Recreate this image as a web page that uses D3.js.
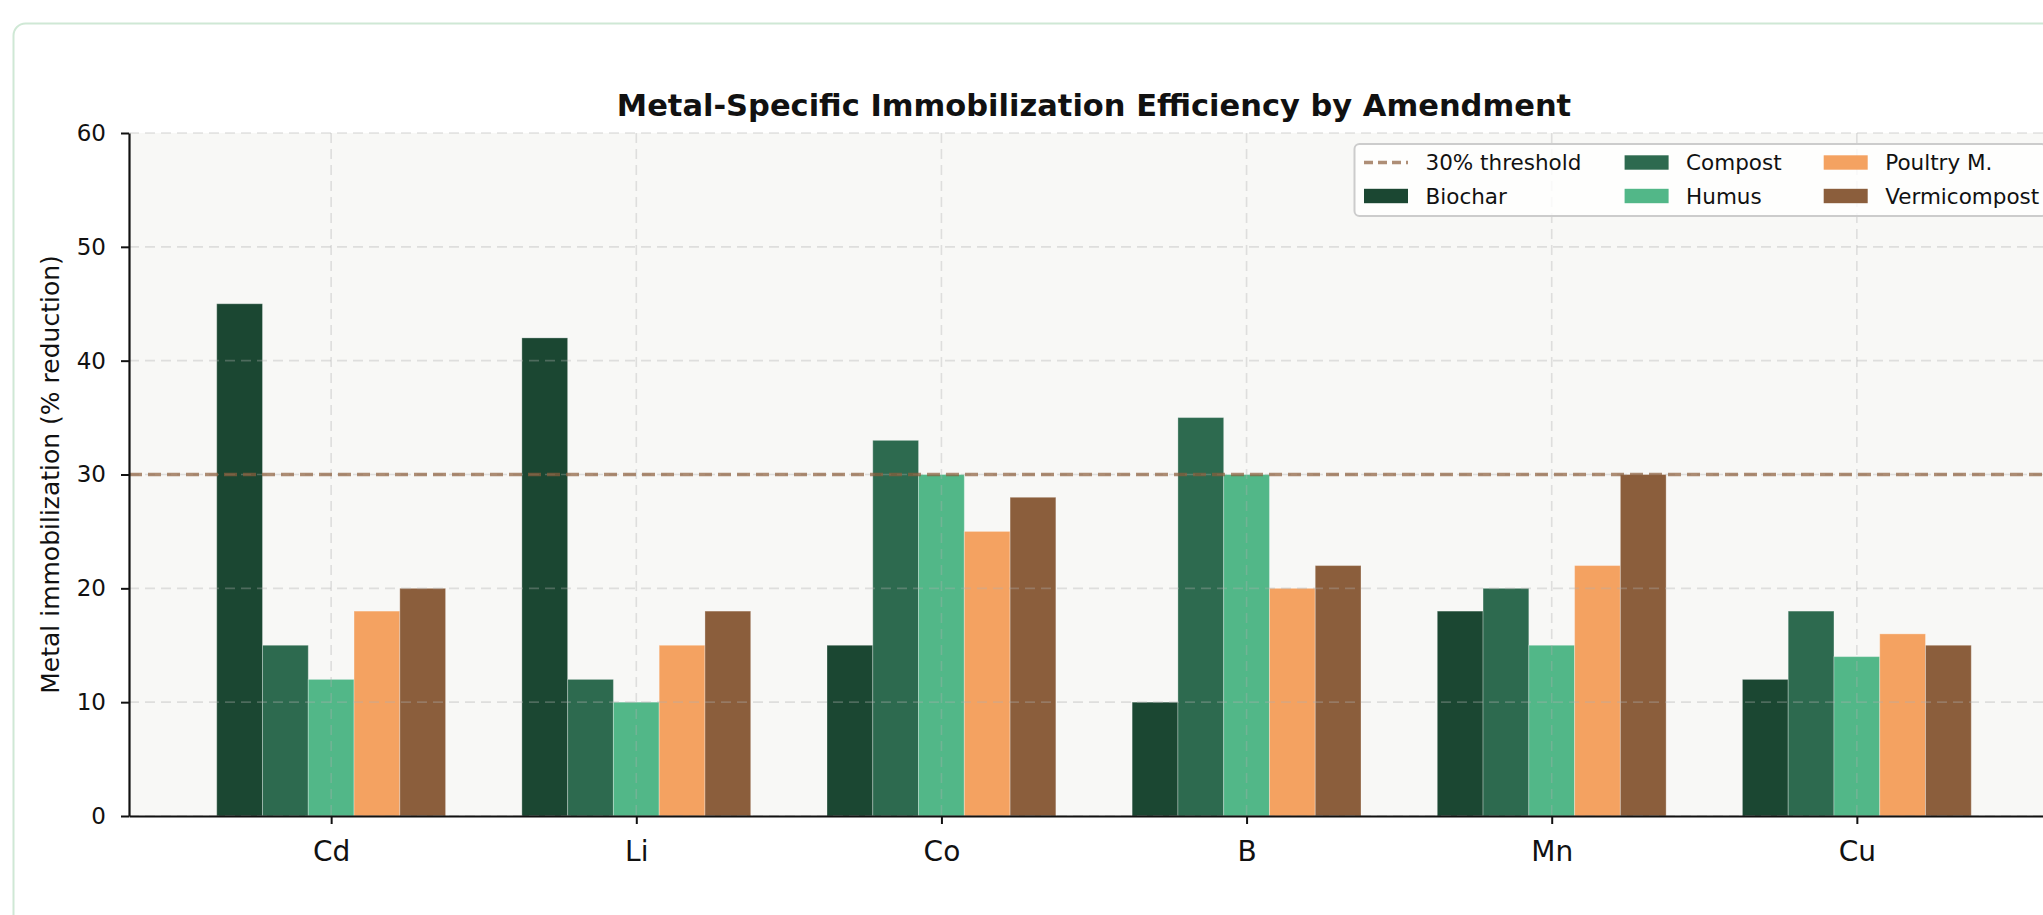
<!DOCTYPE html>
<html>
<head>
<meta charset="utf-8">
<script src="https://cdn.jsdelivr.net/npm/d3@7"></script>
<style>
  html, body { margin: 0; padding: 0; background: #ffffff; overflow: hidden; }
  svg { display: block; }
  text { font-family: "DejaVu Sans", sans-serif; fill: #111; }
</style>
</head>
<body>
<svg id="chart" width="2120" height="960"></svg>
<script>
// ---- data ----
const metals = ["Cd", "Li", "Co", "B", "Mn", "Cu"];
const amendments = ["Biochar", "Compost", "Humus", "Poultry M.", "Vermicompost"];
const biochar      = [45, 42, 15, 10, 18, 12];
const compost      = [15, 12, 33, 35, 20, 18];
const humus        = [12, 10, 30, 30, 15, 14];
const poultry      = [18, 15, 25, 20, 22, 16];
const vermicompost = [20, 18, 28, 22, 30, 15];
const seriesValues = [biochar, compost, humus, poultry, vermicompost];
const seriesColors = ["#1b4732", "#2d6a4f", "#52b788", "#f4a261", "#8b5e3c"];
const yTicks = [0, 10, 20, 30, 40, 50, 60];
const threshold = 30;
const thresholdLabel = "30% threshold";
const titleText = "Metal-Specific Immobilization Efficiency by Amendment";
const yLabelText = "Metal immobilization (% reduction)";

// ---- layout ----
const svg = d3.select("#chart");
const plot = { left: 129, right: 2059, top: 133, bottom: 816 };
const barW = 0.15;
const nS = amendments.length;
const pad = (metals.length - 1 + nS * barW) * 0.05;
const xMin = -nS * barW / 2 - pad, xMax = metals.length - 1 + nS * barW / 2 + pad;

const x = d3.scaleLinear().domain([xMin, xMax]).range([plot.left, plot.right]);
const y = d3.scaleLinear().domain([0, 60]).range([plot.bottom, plot.top]);

// card
svg.append("rect")
  .attr("x", 13.5).attr("y", 23.5).attr("width", 2150).attr("height", 1000)
  .attr("rx", 12).attr("fill", "#ffffff")
  .attr("stroke", "#cfe8d5").attr("stroke-width", 2);

// axes background
svg.append("rect")
  .attr("x", plot.left).attr("y", plot.top)
  .attr("width", plot.right - plot.left).attr("height", plot.bottom - plot.top)
  .attr("fill", "#f8f8f6");

// bars
const groups = svg.append("g");
seriesValues.forEach((vals, si) => {
  groups.append("g").selectAll("rect").data(vals).join("rect")
    .attr("x", (d, i) => x(i + (si - (nS - 1) / 2) * barW - barW / 2))
    .attr("width", (d, i) => x(barW) - x(0))
    .attr("y", d => y(d))
    .attr("height", d => y(0) - y(d))
    .attr("fill", seriesColors[si])
    .attr("stroke", "#ffffff").attr("stroke-opacity", 0.3).attr("stroke-width", 1);
});

// grid (drawn above bars, like matplotlib default)
const grid = svg.append("g").attr("stroke", "#b0b0b0").attr("stroke-opacity", 0.35)
  .attr("stroke-width", 1.6).attr("stroke-dasharray", "10,6");
grid.selectAll("line.h").data(yTicks).join("line").attr("class", "h")
  .attr("x1", plot.left).attr("x2", plot.right)
  .attr("y1", d => y(d)).attr("y2", d => y(d));
grid.selectAll("line.v").data(metals).join("line").attr("class", "v")
  .attr("x1", (d, i) => x(i)).attr("x2", (d, i) => x(i))
  .attr("y1", plot.top).attr("y2", plot.bottom);

// threshold line
svg.append("line")
  .attr("x1", plot.left).attr("x2", plot.right)
  .attr("y1", y(threshold)).attr("y2", y(threshold))
  .attr("stroke", "#8b5e3c").attr("stroke-opacity", 0.7)
  .attr("stroke-width", 3.5).attr("stroke-dasharray", "13,6");

// y axis
const yAxis = svg.append("g").attr("transform", `translate(${plot.left},0)`)
  .call(d3.axisLeft(y).tickValues(yTicks).tickSize(8).tickSizeOuter(0).tickPadding(15));
yAxis.select(".domain").attr("stroke", "#111").attr("stroke-width", 2.2);
yAxis.selectAll(".tick line").attr("stroke", "#111").attr("stroke-width", 2);
yAxis.selectAll(".tick text").style("font-size", "23px").attr("fill", "#111");

// x axis
const xAxis = svg.append("g").attr("transform", `translate(0,${plot.bottom})`)
  .call(d3.axisBottom(x).tickValues(d3.range(metals.length)).tickFormat(i => metals[i])
        .tickSize(8).tickSizeOuter(0));
xAxis.select(".domain").attr("stroke", "#111").attr("stroke-width", 2.2);
xAxis.selectAll(".tick line").attr("stroke", "#111").attr("stroke-width", 2);
xAxis.selectAll(".tick text").style("font-size", "28px").attr("fill", "#111")
  .attr("y", 45).attr("dy", 0);

// title
svg.append("text")
  .attr("x", (plot.left + plot.right) / 2).attr("y", 116)
  .attr("text-anchor", "middle")
  .style("font-size", "30.5px").style("font-weight", "bold")
  .text(titleText);

// y label
svg.append("text")
  .attr("transform", `translate(58.5,${(plot.top + plot.bottom) / 2}) rotate(-90)`)
  .attr("text-anchor", "middle")
  .style("font-size", "25px")
  .text(yLabelText);

// legend
const lg = svg.append("g");
lg.append("rect")
  .attr("x", 1354.5).attr("y", 144).attr("width", 692).attr("height", 72)
  .attr("rx", 5).attr("fill", "#ffffff").attr("fill-opacity", 0.8)
  .attr("stroke", "#cccccc").attr("stroke-width", 2);
const legendItems = [{ type: "line", label: thresholdLabel, color: "#8b5e3c" }]
  .concat(amendments.map((a, i) => ({ type: "patch", label: a, color: seriesColors[i] })));
const colX = [1364, 1624.6, 1823.7];
const rowY = [162.5, 196];
legendItems.forEach((it, k) => {
  const c = Math.floor(k / 2), r = k % 2;
  const hx = colX[c], cy = rowY[r];
  if (it.type === "line") {
    lg.append("line").attr("x1", hx).attr("x2", hx + 44).attr("y1", cy).attr("y2", cy)
      .attr("stroke", it.color).attr("stroke-opacity", 0.7)
      .attr("stroke-width", 3.5).attr("stroke-dasharray", "9,5");
  } else {
    lg.append("rect").attr("x", hx).attr("y", cy - 7.2).attr("width", 44).attr("height", 14.4)
      .attr("fill", it.color);
  }
  lg.append("text").attr("x", hx + 61.5).attr("y", cy).attr("dy", "0.36em")
    .style("font-size", "21.5px").text(it.label);
});
</script>
</body>
</html>
